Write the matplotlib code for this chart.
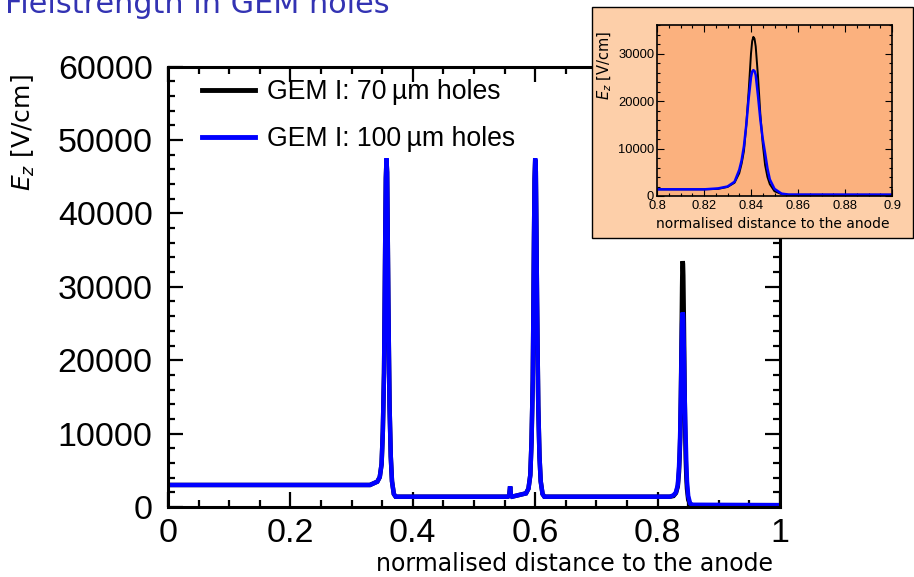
import matplotlib
matplotlib.use("Agg")
import matplotlib.pyplot as plt
from matplotlib.patches import Rectangle
from matplotlib.ticker import MultipleLocator

# ---------------- data ----------------
distance = [
    0.000, 0.330, 0.342, 0.346, 0.349, 0.351, 0.353, 0.354, 0.355, 0.356, 0.357,
    0.358, 0.359, 0.360, 0.361, 0.362, 0.364, 0.366, 0.369, 0.372, 0.376,
    0.555, 0.5575, 0.559, 0.5605, 0.562, 0.585, 0.589, 0.592, 0.594, 0.596, 0.597,
    0.598, 0.599, 0.600, 0.601, 0.602, 0.603, 0.604, 0.605, 0.607, 0.609, 0.612, 0.615,
    0.800, 0.820, 0.826, 0.830, 0.833, 0.835, 0.836, 0.837, 0.838, 0.839, 0.840,
    0.8405, 0.841, 0.8415, 0.842, 0.843, 0.844, 0.845, 0.846, 0.847, 0.848, 0.850,
    0.853, 0.856, 1.000,
]
ez_70um = [
    3000, 3000, 3450, 4070, 5850, 10250, 18250, 27100, 36900, 44800, 47300,
    45600, 37400, 28100, 20800, 13800, 6900, 3500, 1770, 1400, 1400,
    1400, 1500, 2800, 1500, 1400, 1860, 2500, 4350, 8900, 17200, 26400,
    36500, 44700, 47300, 45700, 37400, 28100, 20800, 13800, 6900, 3500, 1770, 1400,
    1400, 1400, 1500, 1900, 2800, 4800, 6800, 9500, 15000, 22000, 30000,
    32600, 33500, 33100, 31500, 25000, 17000, 11000, 6500, 4000, 2500, 1000,
    400, 250, 250,
]
ez_100um = [
    3000, 3000, 3450, 4070, 5850, 10250, 18250, 27100, 36900, 44800, 47500,
    45600, 37400, 28100, 20800, 13800, 6900, 3500, 1770, 1400, 1400,
    1400, 1500, 2800, 1500, 1400, 1860, 2500, 4350, 8900, 17200, 26400,
    36500, 44700, 47500, 45700, 37400, 28100, 20800, 13800, 6900, 3500, 1770, 1400,
    1400, 1400, 1600, 2000, 3000, 5500, 7500, 10500, 15000, 20500, 25000,
    26200, 26500, 26300, 25500, 21000, 16000, 12000, 9000, 5800, 3500, 1500,
    500, 300, 250,
]
series_labels = ["GEM I: 70\u2009\u00b5m holes", "GEM I: 100\u2009\u00b5m holes"]
main_xticks = [0, 0.2, 0.4, 0.6, 0.8, 1.0]
main_xticklabels = ["0", "0.2", "0.4", "0.6", "0.8", "1"]
main_yticks = [0, 10000, 20000, 30000, 40000, 50000, 60000]
inset_xticks = [0.8, 0.82, 0.84, 0.86, 0.88, 0.9]
inset_xticklabels = ["0.8", "0.82", "0.84", "0.86", "0.88", "0.9"]
inset_yticks = [0, 10000, 20000, 30000]
title_text = "Fielstrength in GEM holes"
xlabel_text = "normalised distance to the anode"
ylabel_text = "$E_z$ [V/cm]"

# ---------------- figure ----------------
W, H = 914, 577
fig = plt.figure(figsize=(W / 100, H / 100), dpi=100)


def fx(px):
    return px / W


def fy(py):
    return 1 - py / H


TICKFONT = "Liberation Sans"
LABELFONT = "DejaVu Sans"

# main axes
L, R, T, B = 168, 780, 66.6, 507
ax = fig.add_axes([fx(L), fy(B), (R - L) / W, (B - T) / H])
ax.plot(distance, ez_70um, color="black", lw=3.2, label=series_labels[0],
        solid_joinstyle="miter")
ax.plot(distance, ez_100um, color="#0000ff", lw=3.2, label=series_labels[1],
        solid_joinstyle="miter")
ax.set_xlim(0, 1)
ax.set_ylim(0, 60000)
ax.set_xticks(main_xticks)
ax.set_xticklabels(main_xticklabels)
ax.set_yticks(main_yticks)
ax.set_yticklabels([str(v) for v in main_yticks])
ax.xaxis.set_minor_locator(MultipleLocator(0.05))
ax.yaxis.set_minor_locator(MultipleLocator(2000))
ax.tick_params(which="both", direction="in", top=True, right=True, width=1.6)
ax.tick_params(which="major", length=11)
ax.tick_params(which="minor", length=5)
ax.tick_params(axis="y", which="major", pad=11)
ax.tick_params(axis="x", which="major", pad=8)
for lab in ax.get_xticklabels() + ax.get_yticklabels():
    lab.set_fontfamily(TICKFONT)
    lab.set_fontsize(24.5)
for sp in ax.spines.values():
    sp.set_linewidth(2.2)

leg = ax.legend(loc="upper left", bbox_to_anchor=(fx(202), fy(79)),
                bbox_transform=fig.transFigure, frameon=False,
                prop={"family": TICKFONT, "size": 19.2}, borderpad=0,
                borderaxespad=0, handlelength=2.0, handletextpad=0.45,
                labelspacing=0.79)
for line in leg.get_lines():
    line.set_linewidth(3.5)

fig.text(fx(773), fy(571), xlabel_text, ha="right", va="baseline",
         fontsize=17, family=LABELFONT)
fig.text(fx(23), fy(133), ylabel_text, ha="center", va="center",
         rotation=90, fontsize=18, family=LABELFONT)

# title (partly cut at top)
fig.text(fx(5), fy(13), title_text, ha="left", va="baseline",
         fontsize=21.8, color="#3333B3", family="DejaVu Sans")

# ---------------- inset ----------------
box = Rectangle((fx(592), fy(238)), (913 - 592) / W, (238 - 7) / H,
                transform=fig.transFigure, facecolor="#FDCFA9",
                edgecolor="black", lw=1.0, zorder=5)
fig.add_artist(box)

iL, iR, iT, iB = 657, 892, 25, 196
ins = fig.add_axes([fx(iL), fy(iB), (iR - iL) / W, (iB - iT) / H])
ins.set_zorder(10)
ins.set_facecolor("#FBB17E")
ins.plot(distance, ez_70um, color="black", lw=1.4, solid_joinstyle="round")
ins.plot(distance, ez_100um, color="#0000ff", lw=1.8, solid_joinstyle="round")
ins.set_xlim(0.8, 0.9)
ins.set_ylim(0, 36000)
ins.set_xticks(inset_xticks)
ins.set_xticklabels(inset_xticklabels)
ins.set_yticks(inset_yticks)
ins.set_yticklabels([str(v) for v in inset_yticks])
ins.xaxis.set_minor_locator(MultipleLocator(0.005))
ins.yaxis.set_minor_locator(MultipleLocator(2000))
ins.tick_params(which="both", direction="in", top=True, right=True, width=0.8)
ins.tick_params(which="major", length=5)
ins.tick_params(axis="x", which="major", pad=3)
ins.tick_params(axis="y", which="major", pad=2)
ins.tick_params(which="minor", length=2.5)
for lab in ins.get_xticklabels() + ins.get_yticklabels():
    lab.set_fontfamily(TICKFONT)
    lab.set_fontsize(9.3)
for sp in ins.spines.values():
    sp.set_linewidth(1.2)

fig.text(fx(773), fy(228), xlabel_text, ha="center", va="baseline",
         fontsize=10, family=LABELFONT, zorder=11)
fig.text(fx(605), fy(65), ylabel_text, ha="center", va="center",
         rotation=90, fontsize=10.5, family=LABELFONT, zorder=11)

fig.savefig("out.png", dpi=100)
